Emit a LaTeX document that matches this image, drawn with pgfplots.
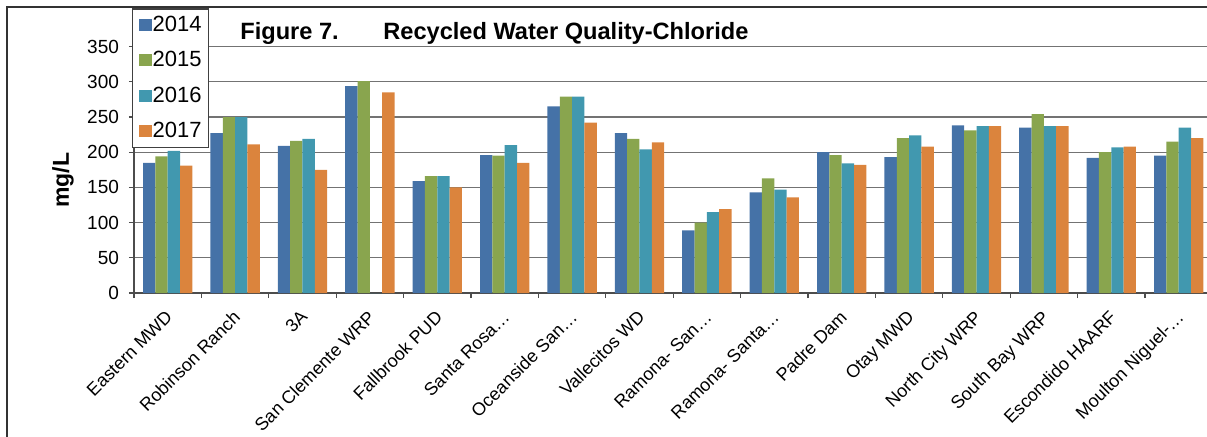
\documentclass[border=0pt]{standalone}
\usepackage{fontspec}
\setmainfont{Liberation Sans}
\usepackage{pgfplots}
\pgfplotsset{compat=1.18}
\definecolor{cA}{HTML}{4572A7}
\definecolor{cB}{HTML}{89A54E}
\definecolor{cC}{HTML}{4198AF}
\definecolor{cD}{HTML}{DB843D}
\begin{document}
\begin{tikzpicture}
\useasboundingbox (-67pt,-71.5pt) rectangle (536.5pt,146.5pt);
\draw[black!80, line width=0.6pt] (-63.5pt,-80pt) -- (-63.5pt,143pt) -- (560pt,143pt);
\begin{axis}[
    at={(0pt,0pt)}, anchor=south west,
    scale only axis, width=539.2pt, height=140.8pt,
    xmin=-0.5, xmax=15.5, ymin=0, ymax=400,
    ybar=0pt, bar width=0.183,
    xtick={-0.5,0.5,...,15.5},
    x tick label as interval,
    xticklabels={Eastern MWD, Robinson Ranch, 3A, San Clemente WRP, Fallbrook PUD,
        Santa Rosa…, Oceanside San…, Vallecitos WD, Ramona- San…, Ramona- Santa…,
        Padre Dam, Otay MWD, North City WRP, South Bay WRP, Escondido HAARF, Moulton Niguel-…},
    ytick={0,50,...,350},
    ymajorgrids, grid style={black!55, line width=0.6pt},
    axis x line*=bottom, axis y line*=left,
    axis line style={black!70, line width=0.7pt},
    tick align=outside, major tick length=2.5pt,
    tick style={black!70, line width=0.6pt},
    /pgf/number format/assume math mode=true,
    yticklabel style={font=\fontsize{9.5}{10}\selectfont, xshift=-1.5pt},
    xticklabel shift=4pt,
    xticklabel style={xshift=-1.5pt, font=\fontsize{9}{10}\selectfont, rotate=45, anchor=north east, inner sep=1pt},
    ylabel={mg/L},
    ylabel style={at={(axis description cs:-0.0658,0.401)}, anchor=center, font=\bfseries\fontsize{11.5}{12}\selectfont},
    legend cell align=left,
    legend image code/.code={\fill[#1,draw=none] (0pt,-3pt) rectangle (6.5pt,3pt);},
    legend style={at={(axis description cs:-0.00185,1.011)}, anchor=north west,
        draw=black!75, line width=0.6pt, fill=white,
        font=\fontsize{11}{12}\selectfont,
        inner xsep=3pt, inner ysep=3.5pt, row sep=8.5pt,
        nodes={inner xsep=0.5pt, inner ysep=0pt}},
]
\addplot[fill=cA, draw=none] coordinates {(0,185)(1,227)(2,209)(3,294)(4,159)(5,196)(6,265)(7,227)(8,89)(9,143)(10,200)(11,193)(12,238)(13,235)(14,192)(15,195)};
\addplot[fill=cB, draw=none] coordinates {(0,194)(1,250)(2,216)(3,301)(4,166)(5,195)(6,279)(7,219)(8,100)(9,163)(10,196)(11,220)(12,231)(13,254)(14,200)(15,215)};
\addplot[fill=cC, draw=none] coordinates {(0,202)(1,250)(2,219)(3,0)(4,166)(5,210)(6,279)(7,204)(8,115)(9,147)(10,184)(11,224)(12,237)(13,237)(14,207)(15,235)};
\addplot[fill=cD, draw=none] coordinates {(0,181)(1,211)(2,175)(3,285)(4,150)(5,185)(6,242)(7,214)(8,119)(9,136)(10,182)(11,208)(12,237)(13,237)(14,208)(15,220)};
\legend{2014,2015,2016,2017}
\end{axis}
\node[anchor=base west, inner sep=0pt, font=\bfseries\fontsize{11.8}{13}\selectfont] at (53pt,126.75pt) {Figure 7.};
\node[anchor=base west, inner sep=0pt, font=\bfseries\fontsize{11.8}{13}\selectfont] at (124.5pt,126.75pt) {Recycled Water Quality-Chloride};
\end{tikzpicture}
\end{document}
